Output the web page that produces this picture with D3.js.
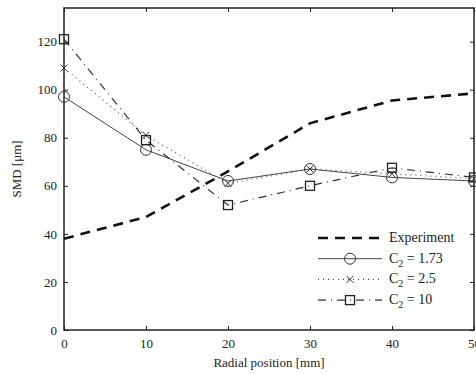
<!DOCTYPE html>
<html><head><meta charset="utf-8">
<script src="https://cdn.jsdelivr.net/npm/d3@7"></script>
<style>body{margin:0;background:#fff}svg{display:block}</style>
</head><body><svg id="c" width="476" height="374"></svg>
<script>
const radial = [0, 10, 20, 30, 40, 50];
const experiment = [38, 47, 66, 86, 95.5, 98.5];
const c173 = [97, 75, 62, 67, 63.5, 62];
const c25 = [109, 81, 61, 67, 65, 63];
const c10 = [121, 79, 52, 60, 67.5, 63.5];
const xTicks = [0, 10, 20, 30, 40, 50];
const yTicks = [0, 20, 40, 60, 80, 100, 120];

const FONT = "'Liberation Serif','Times New Roman','DejaVu Serif',serif";
const svg = d3.select("#c").attr("font-family", FONT);
const L = 64, R = 474, T = 8, B = 330;
const x = d3.scaleLinear().domain([0, 50]).range([L, R]);
const y = d3.scaleLinear().domain([0, 134]).range([B, T]);

function style(g) {
  g.attr("font-family", FONT);
  g.select(".domain").remove();
  g.selectAll("text").attr("font-size", 13).attr("fill", "#222");
  g.selectAll(".tick line").attr("stroke", "#222");
}
svg.append("g").attr("transform", `translate(0,${B})`)
  .call(d3.axisBottom(x).tickValues(xTicks).tickSizeInner(-4).tickSizeOuter(0).tickPadding(9)).call(style);
svg.append("g").attr("transform", `translate(0,${T})`)
  .call(d3.axisTop(x).tickValues(xTicks).tickSizeInner(-4).tickSizeOuter(0).tickFormat("")).call(style);
svg.append("g").attr("transform", `translate(${L},0)`)
  .call(d3.axisLeft(y).tickValues(yTicks).tickSizeInner(-4).tickSizeOuter(0).tickPadding(7)).call(style);
svg.append("g").attr("transform", `translate(${R},0)`)
  .call(d3.axisRight(y).tickValues(yTicks).tickSizeInner(-4).tickSizeOuter(0).tickFormat("")).call(style);

svg.append("rect").attr("x", L).attr("y", T).attr("width", R - L).attr("height", B - T)
  .attr("fill", "none").attr("stroke", "#222").attr("stroke-width", 1.5);

svg.append("text").attr("x", (L + R) / 2).attr("y", 367).attr("text-anchor", "middle")
  .attr("font-size", 13).attr("fill", "#222").text("Radial position [mm]");
svg.append("text").attr("transform", `translate(21,${(T + B) / 2}) rotate(-90)`)
  .attr("text-anchor", "middle").attr("font-size", 13).attr("fill", "#222").text("SMD [μm]");

const series = [
  { name: "Experiment", vals: experiment, w: 2.6, dash: "10,7", color: "#111", marker: null },
  { name: "1.73", vals: c173, w: 1, dash: null, color: "#444", marker: "circle" },
  { name: "2.5", vals: c25, w: 1.2, dash: "1,4", color: "#555", marker: "x" },
  { name: "10", vals: c10, w: 1.2, dash: "8,5,1,5", color: "#333", marker: "square" }
];

const line = d3.line().x((d, i) => x(radial[i])).y(d => y(d));

function marker(g, type, cx, cy) {
  if (type === "circle") {
    g.append("circle").attr("cx", cx).attr("cy", cy).attr("r", 5.5)
      .attr("fill", "none").attr("stroke", "#333").attr("stroke-width", 1);
  } else if (type === "x") {
    g.append("path").attr("d", `M${cx-3.5},${cy-3.5}L${cx+3.5},${cy+3.5}M${cx-3.5},${cy+3.5}L${cx+3.5},${cy-3.5}`)
      .attr("stroke", "#333").attr("stroke-width", 1);
  } else if (type === "square") {
    g.append("rect").attr("x", cx - 4.5).attr("y", cy - 4.5).attr("width", 9).attr("height", 9)
      .attr("fill", "none").attr("stroke", "#222").attr("stroke-width", 1.3);
  }
}

series.forEach(s => {
  svg.append("path").attr("d", line(s.vals)).attr("fill", "none")
    .attr("stroke", s.color).attr("stroke-width", s.w)
    .attr("stroke-dasharray", s.dash);
  if (s.marker) {
    const g = svg.append("g");
    s.vals.forEach((v, i) => marker(g, s.marker, x(radial[i]), y(v)));
  }
});

// legend
const lx0 = 318, lx1 = 382, ly0 = 238, lstep = 20.7;
series.forEach((s, i) => {
  const ly = ly0 + i * lstep;
  svg.append("line").attr("x1", lx0).attr("x2", lx1).attr("y1", ly).attr("y2", ly)
    .attr("stroke", s.color).attr("stroke-width", s.w).attr("stroke-dasharray", s.dash);
  if (s.marker) marker(svg, s.marker, (lx0 + lx1) / 2, ly);
  const t = svg.append("text").attr("x", 389).attr("y", ly + 4).attr("font-size", 14).attr("fill", "#222");
  if (s.marker) {
    t.append("tspan").text("C");
    t.append("tspan").attr("font-size", 10).attr("dy", 4).text("2");
    t.append("tspan").attr("dy", -4).text(" = " + s.name);
  } else {
    t.text(s.name);
  }
});
</script></body></html>
